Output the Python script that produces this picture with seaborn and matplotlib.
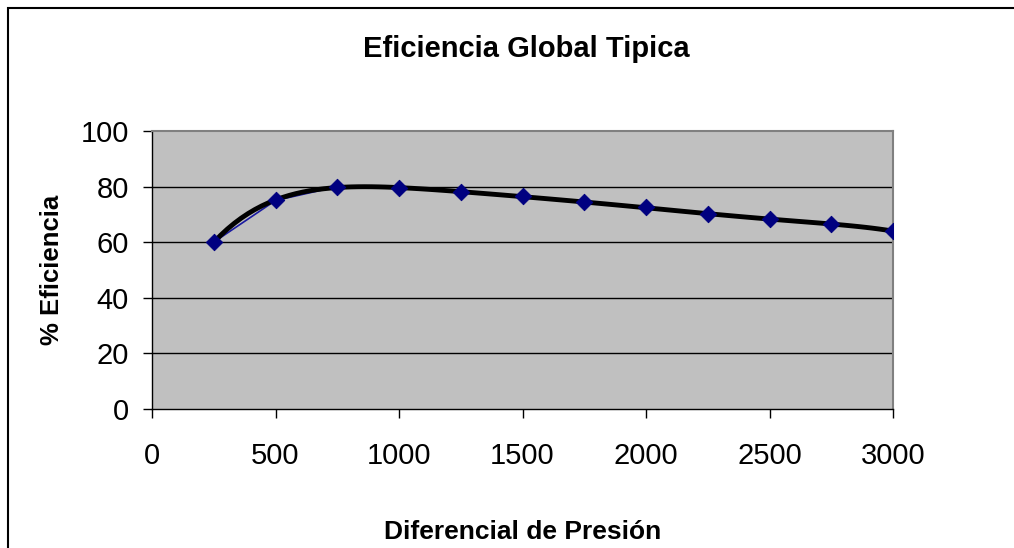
import matplotlib
matplotlib.use("Agg")
import matplotlib.pyplot as plt
import seaborn as sns
import pandas as pd
from matplotlib.patches import Rectangle

# Pressure differential and overall efficiency readings
presion = [250, 500, 750, 1000, 1250, 1500, 1750, 2000, 2250, 2500, 2750, 3000]
eficiencia = [60, 75, 80, 79.5, 78, 76.5, 74.5, 72.5, 70, 68.5, 66.5, 64]
x_ticks = [0, 500, 1000, 1500, 2000, 2500, 3000]
y_ticks = [0, 20, 40, 60, 80, 100]

titulo = "Eficiencia Global Tipica"
etiqueta_x = "Diferencial de Presión"
etiqueta_y = "% Eficiencia"

df = pd.DataFrame({"presion": presion, "eficiencia": eficiencia})

sns.set_theme(style="white")
plt.rcParams["font.family"] = ["Liberation Sans", "DejaVu Sans"]
plt.rcParams["text.color"] = "black"
plt.rcParams["axes.labelcolor"] = "black"

fig = plt.figure(figsize=(10.14, 5.48), dpi=100)
ax = fig.add_axes([152 / 1014, 1 - 409 / 548, (893 - 152) / 1014, (409 - 131) / 548])
ax.set_facecolor("#C0C0C0")

# outer chart border (top and left edges fall inside the canvas)
fig.patches.append(Rectangle((8 / 1014, -0.05), 1.1, 1 - 8 / 548 + 0.05,
                             transform=fig.transFigure, fill=False,
                             edgecolor="black", linewidth=1.5, zorder=0))

# horizontal gridlines
for yv in y_ticks[1:-1]:
    ax.axhline(yv, color="black", linewidth=1.0, zorder=1)

# data series: thin navy line
sns.lineplot(data=df, x="presion", y="eficiencia", ax=ax, color="#1a1aa0",
             linewidth=1.2, zorder=2)

# polynomial trendline
sns.regplot(data=df, x="presion", y="eficiencia", ax=ax, order=6, ci=None,
            scatter=False, truncate=True,
            line_kws={"color": "black", "linewidth": 3.5, "zorder": 3})

# diamond markers
sns.scatterplot(data=df, x="presion", y="eficiencia", ax=ax, marker="D",
                color="#000080", edgecolor="#000080", s=70, zorder=4)

ax.set_xlim(0, 3000)
ax.set_ylim(0, 100)
ax.set_xticks(x_ticks)
ax.set_yticks(y_ticks)
ax.tick_params(axis="both", which="major", labelsize=21, colors="black",
               length=6.5, width=1.0, direction="out")
ax.tick_params(axis="x", pad=17)
ax.tick_params(axis="y", pad=10)
ax.tick_params(bottom=True, left=True)

for side in ["top", "right"]:
    ax.spines[side].set_color("#808080")
    ax.spines[side].set_linewidth(1.5)
for side in ["left", "bottom"]:
    ax.spines[side].set_color("black")
    ax.spines[side].set_linewidth(1.0)

ax.set_xlabel(etiqueta_x, fontsize=19, fontweight="bold", labelpad=36)
ax.set_ylabel(etiqueta_y, fontsize=18.5, fontweight="bold", labelpad=12)
fig.text(526 / 1014, 1 - 49 / 548, titulo, ha="center", va="center",
         fontsize=21, fontweight="bold", color="black")

fig.savefig("out.png", dpi=100)
